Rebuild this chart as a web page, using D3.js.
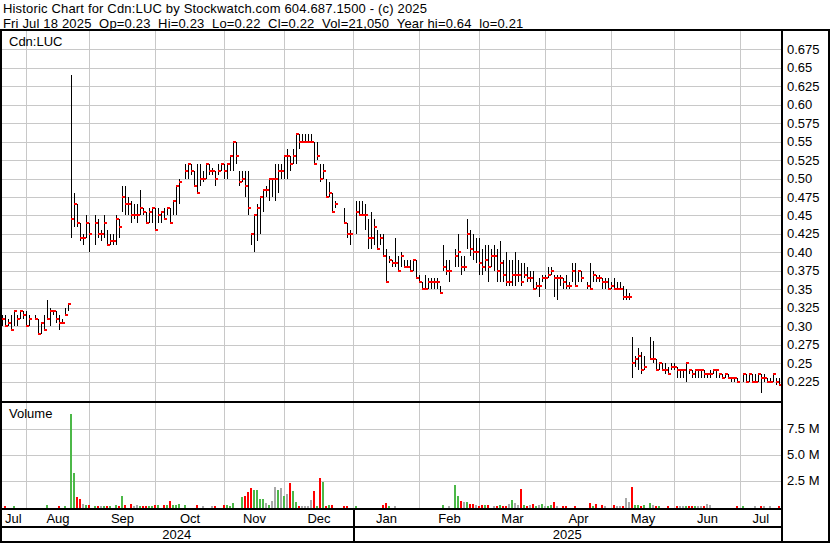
<!DOCTYPE html>
<html><head><meta charset="utf-8">
<script src="https://cdn.jsdelivr.net/npm/d3@7"></script>
<style>
html,body{margin:0;padding:0;background:#fff;}
svg{display:block;font-family:"Liberation Sans",Arial,sans-serif;}
</style></head><body>
<svg id="c" width="830" height="543"></svg>
<script>
const titleLine = "Historic Chart for Cdn:LUC by Stockwatch.com 604.687.1500 - (c) 2025";
const infoLine = "Fri Jul 18 2025  Op=0.23  Hi=0.23  Lo=0.22  Cl=0.22  Vol=21,050  Year hi=0.64  lo=0.21";
const symbolLabel = "Cdn:LUC";
const volumeLabel = "Volume";

// daily bars (one per trading-day slot; null = no trade)
const high = [.315,.315,.31,.315,.32,.315,.32,.32,.32,.315,null,.315,.31,.305,.315,.335,.325,.32,.32,.315,.31,.325,.33,
.64,.48,.465,.44,.425,.45,.44,null,.45,.445,.43,.45,.43,.425,.425,.45,.445,.49,.49,.475,.47,.465,.465,.485,.46,.455,.46,.46,
.46,.46,.455,.46,.46,.46,.47,.49,.50,null,.52,.52,.52,.51,.52,.52,.51,.52,.52,.515,.51,.52,.52,
.52,.52,.53,.55,.55,.51,.51,.51,.51,.425,.45,.465,.475,.485,.49,.50,.50,.52,.52,
.52,.53,.54,.53,.54,.56,.56,.56,.56,.56,.56,.55,.55,.52,.52,.50,.495,.48,.47,null,null,.46,.44,.43,
null,.47,.47,.47,.465,.445,.455,.445,.43,.425,.425,.405,.395,.39,.42,.395,.40,.39,.39,.39,.39,.39,
.37,.36,.37,.365,.365,.365,.365,.355,.41,.39,.39,null,.405,.425,.395,.395,.445,.43,.425,.42,
.42,.405,.41,.41,.405,.41,.405,.415,.39,.40,.39,.39,.40,.39,.385,.385,.38,.375,.375,.36,.365,.37,
.37,.38,.38,.37,.37,.37,.365,.37,.36,.385,.385,.375,.375,null,.36,.385,.375,.37,.37,.365,.365,.365,
.36,.365,.36,.36,.355,.35,.345,.285,.26,.27,.265,.26,null,.285,.28,.255,.25,.25,.25,.245,
.25,.25,.245,.24,.24,.25,.24,.24,.24,.24,.24,.24,.235,.24,.24,.24,.235,.235,.235,.235,.23,.23,.23,
null,.235,.235,.235,.235,.235,.235,.235,.235,.23,.23,.235,.23,.23];
const low = [.30,.30,.30,.295,.30,.30,.31,.31,.30,.30,null,.31,.29,.29,.295,.31,.30,.315,.305,.295,.305,.315,.32,
.42,.435,.435,.415,.41,.42,.40,null,.41,.42,.415,.42,.41,.41,.41,.41,.42,.455,.45,.45,.44,.445,.44,.45,.45,.44,.44,.44,
.43,.44,.44,.445,.45,.44,.45,.45,.465,null,.50,.50,.505,.49,.48,.49,.495,.50,.505,.505,.49,.505,.51,
.50,.50,.51,.51,.52,.49,.495,.475,.45,.41,.40,.415,.425,.455,.475,.47,.475,.47,.48,
.50,.50,.50,.51,.52,.52,.54,.55,.55,.55,.55,.52,.525,.495,.50,.475,.475,.455,.46,null,null,.44,.42,.41,
null,.425,.45,.45,.43,.405,.405,.41,.405,.41,.395,.36,.385,.38,.38,.375,.38,.38,.38,.375,.375,.365,
.36,.35,.35,.35,.35,.35,.35,.345,.375,.37,.36,null,.38,.38,.37,.375,.405,.395,.39,.385,
.37,.37,.375,.36,.38,.375,.36,.36,.36,.355,.355,.355,.355,.36,.355,.365,.36,.36,.35,.35,.34,.36,
.35,.365,.37,.34,.335,.355,.35,.35,.35,.36,.355,.36,.36,null,.35,.35,.36,.36,.36,.35,.35,.35,
.35,.35,.35,.35,.335,.335,.335,.23,.245,.24,.235,.24,null,.255,.25,.24,.24,.24,.235,.235,
.24,.24,.23,.23,.23,.225,.235,.23,.23,.23,.23,.23,.23,.23,.235,.23,.23,.23,.23,.23,.225,.225,.225,
null,.225,.225,.225,.225,.225,.225,.21,.225,.225,.225,.225,.22,.22];
const close = [.31,.30,.305,.295,.32,.31,.32,.315,.30,.31,null,.31,.29,.305,.295,.31,.32,.32,.31,.305,.305,.315,.33,
.445,.465,.44,.42,.42,.44,.425,null,.44,.425,.425,.44,.41,.415,.415,.445,.435,.475,.465,.465,.45,.45,.45,.46,.455,.44,.455,.46,
.43,.45,.455,.445,.46,.44,.47,.49,.495,null,.51,.52,.51,.49,.48,.50,.50,.52,.51,.51,.50,.51,.52,
.51,.52,.53,.55,.53,.495,.50,.49,.46,.425,.45,.46,.475,.485,.485,.50,.50,.50,.51,
.51,.53,.53,.52,.53,.56,.55,.55,.55,.55,.55,.52,.53,.50,.51,.475,.48,.455,.465,null,null,.44,.425,.425,
null,.455,.45,.45,.45,.42,.42,.435,.405,.42,.395,.36,.39,.385,.385,.375,.395,.38,.38,.375,.39,.365,
.36,.35,.35,.36,.36,.36,.36,.345,.38,.375,.375,null,.395,.40,.38,.38,.425,.405,.40,.40,
.385,.38,.39,.38,.395,.395,.375,.385,.37,.36,.36,.37,.37,.37,.36,.37,.365,.365,.35,.355,.355,.365,
.365,.37,.375,.365,.365,.365,.36,.355,.355,.375,.355,.375,.365,null,.355,.35,.37,.365,.365,.36,.36,.35,
.355,.35,.35,.35,.34,.34,.34,.25,.255,.26,.24,.245,null,.255,.255,.24,.25,.24,.24,.235,
.245,.245,.24,.24,.24,.25,.24,.235,.24,.24,.24,.235,.235,.235,.24,.24,.235,.23,.235,.23,.23,.23,.225,
null,.235,.225,.235,.225,.225,.235,.23,.23,.225,.225,.235,.225,.22];
// volume, millions of shares
const volume = [0,.03,0,0,.03,0,0,0,0,0,0,0,0,0,0,.15,0,0,0,.03,0,.03,0,
8.94,3.2,.9,.7,.23,.13,.13,0,.06,.04,.04,.04,.04,.06,0,.15,.06,.95,.15,0,.25,.06,.08,.06,.04,.04,.04,.07,
.08,.1,0,.16,.16,.5,.12,.16,.22,0,.08,0,0,0,.1,0,.04,0,0,.04,.04,0,0,
.15,.08,.06,.35,0,0,.9,1.0,1.4,1.8,1.6,1.6,.68,.7,.35,.16,.5,1.9,1.6,
1.8,1.0,1.15,2.26,1.5,.4,.06,.06,.06,.03,.6,1.5,.06,2.74,2.35,.03,.12,.12,0,0,0,.04,.04,0,
0,.05,0,0,0,0,0,0,0,0,.1,.32,.05,0,.04,0,0,0,0,0,0,0,
0,0,0,0,0,0,0,0,.16,0,.05,0,2.06,1.0,.52,.42,.42,.2,.26,.16,
.03,.12,.1,.12,0,.06,.06,.08,.06,.06,.22,.65,.35,.15,1.7,.12,.06,.16,.22,.05,.16,.22,
.06,.06,.12,.42,.03,0,.06,.06,0,0,.06,0,0,0,0,.35,.06,.26,0,.1,.05,0,
0,.16,.06,.06,.06,.84,.45,1.87,.1,.08,.06,.12,0,.32,.1,.06,.04,0,0,.04,
0,0,.06,.03,.06,.06,.03,.04,.04,.02,.03,.04,.25,.1,0,0,0,0,0,0,0,0,.04,
0,.04,0,0,0,.04,0,.04,.03,0,.03,0,0,.021];

const monthLabels = ["Jul","Aug","Sep","Oct","Nov","Dec","Jan","Feb","Mar","Apr","May","Jun","Jul"];
const monthStarts = [0,8,29,51,74,94,117,139,159,181,203,224,246];   // bar slot where each month begins
const yearLabels = ["2024","2025"];
const yearStarts = [0,117];
const priceTicks = [0.225,0.25,0.275,0.30,0.325,0.35,0.375,0.40,0.425,0.45,0.475,0.50,0.525,0.55,0.575,0.60,0.625,0.65,0.675];
const priceTickLabels = ["0.225","0.25","0.275","0.30","0.325","0.35","0.375","0.40","0.425","0.45","0.475","0.50","0.525","0.55","0.575","0.60","0.625","0.65","0.675"];
const volTicks = [2.5,5,7.5];
const volTickLabels = ["2.5 M","5.0 M","7.5 M"];

const svg = d3.select("#c");
const PL = 0, PR = 781;
const x = d3.scaleLinear().domain([0, high.length - 1]).range([2, 779]);
const y = d3.scaleLinear().domain([0.2, 0.7]).range([400, 31]);
const yv = d3.scaleLinear().domain([0, 10]).range([506.3, 403.1]);
const VBASE = 508;
const gridCol = "#c8c8c8";
const COL = {up:"#4cb848", down:"#ff0000", flat:"#a8a8a8"};

svg.append("rect").attr("width",830).attr("height",543).attr("fill","#fff");

// grid
const grid = svg.append("g").attr("stroke", gridCol).attr("stroke-width", 1).attr("shape-rendering","crispEdges");
grid.selectAll(".hp").data(priceTicks).join("line")
  .attr("x1", 2).attr("x2", PR).attr("y1", d => Math.round(y(d)) + 0.5).attr("y2", d => Math.round(y(d)) + 0.5);
grid.selectAll(".hv").data(volTicks).join("line")
  .attr("x1", 2).attr("x2", PR).attr("y1", d => Math.round(yv(d)) + 0.5).attr("y2", d => Math.round(yv(d)) + 0.5);
grid.selectAll(".vp").data(monthStarts.slice(1)).join("line")
  .attr("x1", d => x(d) + 0.5).attr("x2", d => x(d) + 0.5).attr("y1", 31).attr("y2", 401);
grid.selectAll(".vv").data(monthStarts.slice(1)).join("line")
  .attr("x1", d => x(d) + 0.5).attr("x2", d => x(d) + 0.5).attr("y1", 403).attr("y2", 508);

// data
const bars = high.map((h, i) => ({i, h, l: low[i], c: close[i], v: volume[i]}));
let prev = null;
bars.forEach(d => {
  if (d.c == null) { d.dir = null; return; }
  d.dir = prev == null ? "flat" : d.c > prev + 1e-9 ? "up" : d.c < prev - 1e-9 ? "down" : "flat";
  prev = d.c;
});
const traded = bars.filter(d => d.c != null);

// volume bars
svg.append("g").attr("shape-rendering","crispEdges").selectAll("rect").data(traded.filter(d => d.v > 0)).join("rect")
  .attr("x", d => x(d.i) - 1).attr("width", 2)
  .attr("y", d => Math.min(yv(d.v), VBASE - 1)).attr("height", d => VBASE - Math.min(yv(d.v), VBASE - 1))
  .attr("fill", d => COL[d.dir]);

// price bars
const pb = svg.append("g").attr("shape-rendering","crispEdges");
pb.selectAll("line").data(traded).join("line")
  .attr("x1", d => x(d.i) + 0.5).attr("x2", d => x(d.i) + 0.5)
  .attr("y1", d => Math.round(y(d.h))).attr("y2", d => Math.max(Math.round(y(d.l)), Math.round(y(d.h)) + 1))
  .attr("stroke", "#000").attr("stroke-width", 1);
pb.selectAll("rect").data(traded).join("rect")
  .attr("x", d => x(d.i)).attr("width", 3)
  .attr("y", d => Math.round(y(d.c)) - 1).attr("height", 2)
  .attr("fill", "#ff0000");

// frame
const frame = svg.append("g").attr("fill", "#000").attr("shape-rendering","crispEdges");
frame.append("rect").attr("x",0).attr("y",29).attr("width",830).attr("height",2);
frame.append("rect").attr("x",0).attr("y",30).attr("width",2).attr("height",513);
frame.append("rect").attr("x",PR).attr("y",30).attr("width",2).attr("height",513);
frame.append("rect").attr("x",828).attr("y",30).attr("width",2).attr("height",513);
frame.append("rect").attr("x",0).attr("y",401).attr("width",PR).attr("height",2);
frame.append("rect").attr("x",0).attr("y",508).attr("width",PR).attr("height",2);
frame.append("rect").attr("x",0).attr("y",526).attr("width",PR).attr("height",2);
frame.append("rect").attr("x",0).attr("y",541).attr("width",830).attr("height",2);
frame.selectAll(".ys").data(yearStarts.slice(1)).join("rect")
  .attr("x", d => x(d)).attr("y", 510).attr("width", 2).attr("height", 31);

// texts
const T = svg.append("g").attr("font-size", 13).attr("fill", "#000");
const H = T.append("g").attr("letter-spacing", 0.17);
H.append("text").attr("x",3).attr("y",13).text(titleLine);
H.append("text").attr("x",3).attr("y",27.5).text(infoLine.replace(/ /g, "\u00a0"));
T.append("text").attr("x",9).attr("y",46).text(symbolLabel);
T.append("text").attr("x",9).attr("y",417.5).text(volumeLabel);

T.selectAll(".pt").data(priceTicks).join("text")
  .attr("x", 787).attr("y", d => y(d) + 4.5).text((d, i) => priceTickLabels[i]);
T.selectAll(".vt").data(volTicks).join("text")
  .attr("x", 787).attr("y", d => yv(d) + 4.5).text((d, i) => volTickLabels[i]);

const mb = monthStarts.map((s, i) => i === 0 ? PL : x(s) + 0.5).concat([PR]);
T.selectAll(".ml").data(monthLabels).join("text")
  .attr("text-anchor","middle").attr("x", (d, i) => (mb[i] + mb[i+1]) / 2).attr("y", 522.5).text(d => d);
const yb = yearStarts.map((s, i) => i === 0 ? PL : x(s) + 0.5).concat([PR]);
T.selectAll(".yl").data(yearLabels).join("text")
  .attr("text-anchor","middle").attr("x", (d, i) => (yb[i] + yb[i+1]) / 2).attr("y", 539).text(d => d);
</script>
</body></html>
